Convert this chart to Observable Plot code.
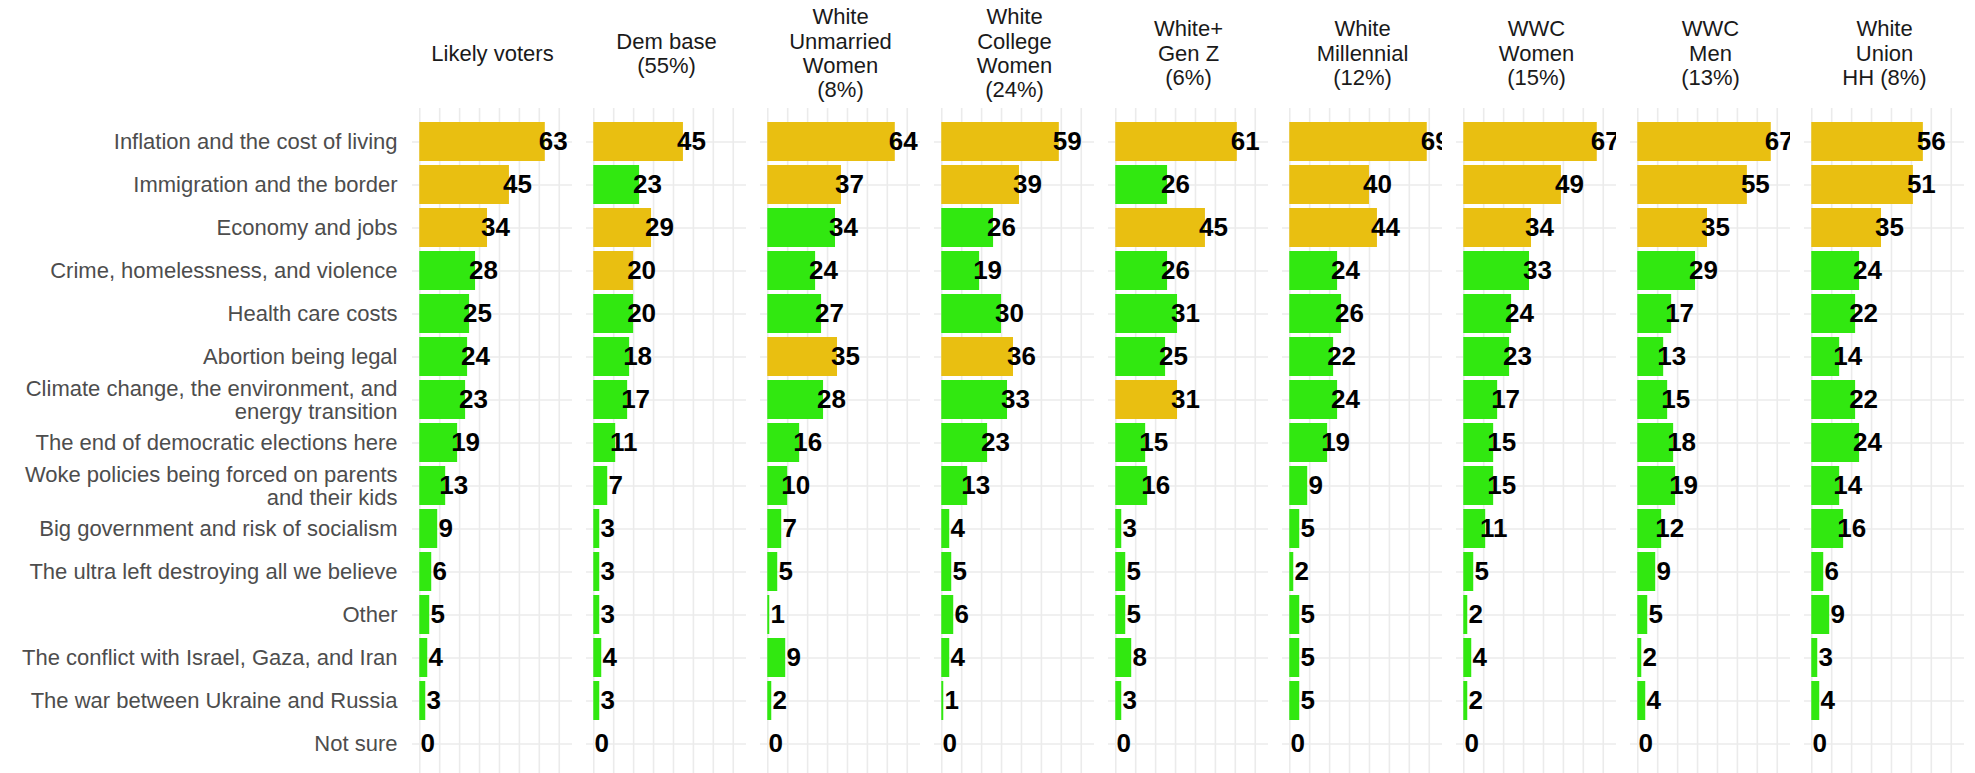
<!DOCTYPE html>
<html><head><meta charset="utf-8">
<script src="https://cdn.jsdelivr.net/npm/d3@7"></script>
<script src="https://cdn.jsdelivr.net/npm/@observablehq/plot@0.6"></script>
<style>html,body{margin:0;padding:0;background:#fff;overflow:hidden}</style>
</head><body><div id="chart"></div>
<script>
const groups = ["Likely voters","Dem base (55%)","White Unmarried Women (8%)","White College Women (24%)","White+ Gen Z (6%)","White Millennial (12%)","WWC Women (15%)","WWC Men (13%)","White Union HH (8%)"];
const groupLabels = ["Likely voters","Dem base\n(55%)","White\nUnmarried\nWomen\n(8%)","White\nCollege\nWomen\n(24%)","White+\nGen Z\n(6%)","White\nMillennial\n(12%)","WWC\nWomen\n(15%)","WWC\nMen\n(13%)","White\nUnion\nHH (8%)"];
const issues = ["Inflation and the cost of living","Immigration and the border","Economy and jobs","Crime, homelessness, and violence","Health care costs","Abortion being legal","Climate change, the environment, and energy transition","The end of democratic elections here","Woke policies being forced on parents and their kids","Big government and risk of socialism","The ultra left destroying all we believe","Other","The conflict with Israel, Gaza, and Iran","The war between Ukraine and Russia","Not sure"];
const issueLabels = ["Inflation and the cost of living","Immigration and the border","Economy and jobs","Crime, homelessness, and violence","Health care costs","Abortion being legal","Climate change, the environment, and\nenergy transition","The end of democratic elections here","Woke policies being forced on parents\nand their kids","Big government and risk of socialism","The ultra left destroying all we believe","Other","The conflict with Israel, Gaza, and Iran","The war between Ukraine and Russia","Not sure"];

const likelyVoters        = [63,45,34,28,25,24,23,19,13, 9,6,5,4,3,0];
const demBase             = [45,23,29,20,20,18,17,11, 7, 3,3,3,4,3,0];
const whiteUnmarriedWomen = [64,37,34,24,27,35,28,16,10, 7,5,1,9,2,0];
const whiteCollegeWomen   = [59,39,26,19,30,36,33,23,13, 4,5,6,4,1,0];
const whiteGenZ           = [61,26,45,26,31,25,31,15,16, 3,5,5,8,3,0];
const whiteMillennial     = [69,40,44,24,26,22,24,19, 9, 5,2,5,5,5,0];
const wwcWomen            = [67,49,34,33,24,23,17,15,15,11,5,2,4,2,0];
const wwcMen              = [67,55,35,29,17,13,15,18,19,12,9,5,2,4,0];
const whiteUnionHH        = [56,51,35,24,22,14,22,24,14,16,6,9,3,4,0];
const seriesValues = [likelyVoters, demBase, whiteUnmarriedWomen, whiteCollegeWomen, whiteGenZ, whiteMillennial, wwcWomen, wwcMen, whiteUnionHH];

// issues shown in gold (top three) for each group, by issue index
const highlighted = [[0,1,2],[0,2,3],[0,1,5],[0,1,5],[0,2,6],[0,1,2],[0,1,2],[0,1,2],[0,1,2]];

const GOLD = "#E9BF11", GREEN = "#31E810";

const rows = [];
groups.forEach((g, gi) => {
  issues.forEach((iss, ii) => {
    rows.push({group: g, issue: iss, value: seriesValues[gi][ii], top: highlighted[gi].includes(ii)});
  });
});

const chart = Plot.plot({
  width: 1975,
  height: 773,
  marginTop: 108,
  marginLeft: 408.4,
  marginRight: 8.4,
  marginBottom: 0,
  style: {fontFamily: "'Liberation Sans', Arial, Helvetica, sans-serif", background: "#ffffff", overflow: "visible"},
  fx: {domain: groups, axis: null, range: [408.4, 1966.6], paddingInner: 0.0807, paddingOuter: 0},
  x: {domain: [-3.65, 76.65], axis: null},
  y: {domain: issues, range: [107.6, 776.4], paddingInner: 0.1, paddingOuter: 0.15},
  marks: [
    Plot.gridX({interval: 10, stroke: "#EBEBEB", strokeOpacity: 1, strokeWidth: 1.6}),
    Plot.gridY({stroke: "#EBEBEB", strokeOpacity: 1, strokeWidth: 1.6}),
    Plot.barX(rows, {fx: "group", y: "issue", x: "value", fill: d => d.top ? GOLD : GREEN}),
    Plot.text(rows, {fx: "group", y: "issue", x: d => d.value + 4, text: d => String(d.value),
      fontSize: 26, fontWeight: "bold", fill: "#000", textAnchor: "middle", clip: true}),
    Plot.axisY({tickSize: 0, tickPadding: 15, fontSize: 22, color: "#4D4D4D", label: null,
      tickFormat: d => issueLabels[issues.indexOf(d)], lineHeight: 1.03}),
    Plot.text(groups, {fx: d => d, text: (d, i) => groupLabels[i], frameAnchor: "top", dy: -55.6,
      lineAnchor: "middle", fontSize: 22, fill: "#1A1A1A", lineHeight: 1.1})
  ]
});
document.getElementById("chart").appendChild(chart);
</script>
</body></html>
